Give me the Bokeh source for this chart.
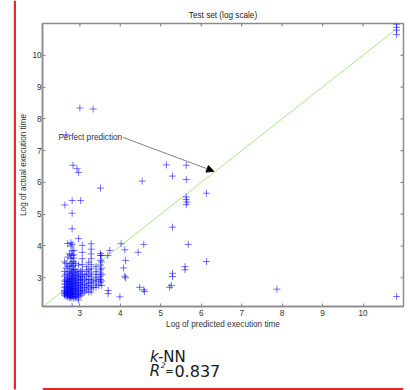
from bokeh.plotting import figure
from bokeh.layouts import row, column
from bokeh.models import (Range1d, FixedTicker, Label, Arrow,
                          NormalHead, BoxAnnotation)
from bokeh.embed import file_html
from bokeh.resources import INLINE

# ---- data ----
# dense k-NN prediction columns: predicted value -> actual values
col_pred = [2.62, 2.63, 2.66, 2.70, 2.74, 2.78, 2.81, 2.83, 2.85, 2.89, 2.93,
            2.97, 3.00, 3.02, 3.06, 3.12, 3.17, 3.22, 3.28, 3.33, 3.40, 3.47,
            3.51, 3.54]
col_actual = [
    [2.45, 2.5, 2.55, 2.6, 2.7, 2.8, 2.9, 3.05, 3.2, 3.5],
    [5.29],
    [2.42, 2.48, 2.53, 2.58, 2.65, 2.72, 2.8, 2.88, 2.95, 3.1, 3.3, 3.45, 7.50],
    [2.4, 2.45, 2.5, 2.55, 2.6, 2.66, 2.72, 2.78, 2.85, 2.92, 3.0, 3.15, 3.35, 3.65, 4.08],
    [2.38, 2.44, 2.5, 2.56, 2.62, 2.7, 2.76, 2.84, 2.9, 2.98, 3.08, 3.2, 3.4, 3.75],
    [2.36, 2.42, 2.48, 2.54, 2.6, 2.66, 2.72, 2.8, 2.88, 2.96, 3.05, 3.15, 3.28, 3.45, 3.6, 3.72, 4.0, 4.1],
    [2.1, 2.4, 2.46, 2.52, 2.58, 2.64, 2.7, 2.78, 2.86, 2.94, 3.02, 3.12, 3.22, 3.35, 3.5, 3.7, 3.85, 4.05, 4.54, 5.03, 5.43],
    [6.54],
    [2.35, 2.42, 2.5, 2.58, 2.66, 2.74, 2.82, 2.9, 2.98, 3.06, 3.16, 3.26, 3.38, 3.5, 3.62, 3.72, 3.86],
    [2.4, 2.48, 2.56, 2.64, 2.72, 2.8, 2.9, 3.0, 3.1, 3.25, 3.45],
    [2.38, 2.46, 2.55, 2.65, 2.75, 2.85, 2.95, 3.08, 3.2, 6.43],
    [2.3, 2.42, 2.5, 2.6, 2.7, 2.8, 2.92, 3.05, 3.15, 3.4, 4.23, 6.31],
    [8.34],
    [2.45, 2.55, 2.65, 2.75, 2.85, 2.95, 3.05, 3.2, 5.43],
    [2.5, 2.6, 2.7, 2.8, 2.9, 3.0, 3.12, 3.25, 3.42, 3.6, 3.8, 4.02],
    [2.55, 2.68, 2.8, 2.95, 3.1],
    [2.62, 2.75, 2.9, 3.05, 3.2, 3.35],
    [2.55, 2.7, 2.82, 2.95, 3.1, 3.25, 3.49],
    [2.55, 2.65, 2.75, 2.85, 2.95, 3.05, 3.15, 3.28, 3.42, 3.6, 3.75, 3.9, 4.07],
    [8.31, 2.7, 2.9],
    [2.7, 2.8, 2.9, 3.0, 3.1, 3.2, 3.35],
    [2.76, 2.95],
    [2.86, 2.95, 3.05, 3.15, 3.25, 3.4, 3.55, 3.7, 3.76, 5.82],
    [2.76, 2.9, 3.1, 3.3, 3.5, 3.7],
]

# scattered points
other_pred = [3.74, 3.69, 3.70, 3.70, 3.99, 4.02, 4.11, 4.13, 4.08, 4.11, 4.13,
              4.44, 4.48, 4.58, 4.60, 4.58, 4.54, 5.14, 5.29, 5.63, 5.63, 6.13,
              5.63, 5.63, 5.65, 5.63, 5.29, 5.68, 6.13, 5.60, 5.60, 5.29, 5.29,
              5.26, 5.22, 7.87, 10.83, 10.83, 10.83, 10.83, 10.83]
other_actual = [3.86, 3.70, 2.60, 2.50, 2.40, 4.07, 3.88, 3.54, 3.31, 3.05, 3.00,
                3.80, 2.70, 2.62, 2.57, 4.05, 6.04, 6.55, 6.20, 6.54, 6.09, 5.66,
                5.54, 5.46, 5.38, 5.30, 4.59, 4.05, 3.51, 3.35, 3.25, 3.14, 3.04,
                2.76, 2.70, 2.64, 2.41, 10.98, 10.88, 10.79, 10.65]

diag = [2.08, 10.83]          # perfect-prediction line end points
x_ticks = [3, 4, 5, 6, 7, 8, 9, 10]
y_ticks = [3, 4, 5, 6, 7, 8, 9, 10]
model_name = "-NN"
r2_text = "0.837"

pred = []
actual = []
for xv, ys in zip(col_pred, col_actual):
    for yv in ys:
        pred.append(xv)
        actual.append(yv)
pred += other_pred
actual += other_actual

FONT = "Liberation Sans"
RED = "#e8262b"
GREY = "#8a8a8a"

def blank(width, height):
    f = figure(width=width, height=height, x_range=Range1d(0, width),
               y_range=Range1d(height, 0), x_axis_type=None,
               y_axis_type=None, output_backend="svg",
               toolbar_location=None, min_border=0, min_border_left=0,
               min_border_right=0, min_border_top=0, min_border_bottom=0)
    f.grid.visible = False
    f.outline_line_color = None
    return f

# ---- red slide frame: left strip and top strip ----
strip = blank(16, 390)
strip.add_layout(BoxAnnotation(left=13.3, right=16, top=0, bottom=389,
                               fill_color=RED, fill_alpha=1, line_color=None))
top_strip = blank(394, 2)
top_strip.add_layout(BoxAnnotation(left=0, right=394, top=0, bottom=2,
                                   fill_color=RED, fill_alpha=1,
                                   line_color=None))

# ---- main chart ----
X0, X1, Y0, Y1 = 2.077, 11.0, 2.096, 11.0
FRAME_W, FRAME_H = 361, 283
p = figure(width=394, height=330, x_range=Range1d(X0, X1),
           y_range=Range1d(Y0, Y1), output_backend="svg",
           toolbar_location=None, title="Test set (log scale)",
           min_border_left=26, min_border_right=7,
           min_border_top=21, min_border_bottom=26)
p.grid.visible = False
p.outline_line_color = GREY
p.outline_line_width = 1.5
p.title.align = "center"
p.title.text_font = FONT
p.title.text_font_size = "8.2px"
p.title.text_font_style = "normal"
p.title.text_color = "#222222"
p.title.standoff = 7

p.xaxis.ticker = FixedTicker(ticks=x_ticks)
p.yaxis.ticker = FixedTicker(ticks=y_ticks)
for ax in (p.xaxis[0], p.yaxis[0]):
    ax.axis_line_color = GREY
    ax.axis_line_width = 1.5
    ax.major_tick_line_color = GREY
    ax.major_tick_in = 3
    ax.major_tick_out = 0
    ax.minor_tick_line_color = None
    ax.major_label_text_font = FONT
    ax.major_label_text_color = "#333333"
    ax.major_label_text_font_size = "8.2px"
    ax.axis_label_text_font = FONT
    ax.axis_label_text_font_size = "8.2px"
    ax.axis_label_text_font_style = "normal"
    ax.axis_label_text_color = "#333333"
p.xaxis.major_label_standoff = 3
p.yaxis.major_label_standoff = 1
p.xaxis.axis_label = "Log of predicted execution time"
p.yaxis.axis_label = "Log of actual execution time"
p.xaxis.axis_label_standoff = 1
p.yaxis.axis_label_standoff = 1

# inward ticks on the top and right edges of the box (matlab style)
dx = 3 * (X1 - X0) / FRAME_W
dy = 3 * (Y1 - Y0) / FRAME_H
p.segment(x0=x_ticks, y0=[Y1] * len(x_ticks), x1=x_ticks,
          y1=[Y1 - dy] * len(x_ticks), line_color=GREY, line_width=1.2)
p.segment(x0=[X1] * len(y_ticks), y0=y_ticks, x1=[X1 - dx] * len(y_ticks),
          y1=y_ticks, line_color=GREY, line_width=1.2)

# perfect prediction line
p.line(diag, diag, line_color="#a3ea86", line_width=1)

# points
p.scatter(pred, actual, marker="cross", size=7, line_color="blue",
          line_alpha=0.55, line_width=1)

# annotation
p.add_layout(Label(x=2.47, y=7.42, text="Perfect prediction",
                   text_font=FONT, text_font_size="8.2px",
                   text_color="#333333", text_baseline="middle"))
p.add_layout(Arrow(end=NormalHead(size=7, fill_color="black",
                                  line_color="black"),
                   x_start=4.06, y_start=7.42, x_end=6.31, y_end=6.35,
                   line_color="#808080", line_width=1))

# ---- caption below the chart ----
cap = blank(394, 58)
CAP = "DejaVu Sans"
def cap_label(x, y, t, size="15px", style="normal"):
    cap.add_layout(Label(x=x, y=y, text=t, text_font=CAP,
                         text_font_size=size, text_font_style=style,
                         text_color="#1a1a1a", text_baseline="alphabetic"))

cap_label(117.3, 24, "k", style="italic")
cap_label(126, 24, model_name)
cap_label(117, 38.5, "R", style="italic")
cap_label(129, 32.8, "2", size="7.5px", style="italic")
cap_label(134, 38.5, "=", size="10px")
cap_label(144, 38.5, r2_text, size="16px")
cap.add_layout(BoxAnnotation(left=0, right=394, top=55.5, bottom=58,
                             fill_color=RED, fill_alpha=1, line_color=None))

layout = row(strip, column(top_strip, p, cap))
open("out.html", "w").write(file_html(layout, INLINE))
